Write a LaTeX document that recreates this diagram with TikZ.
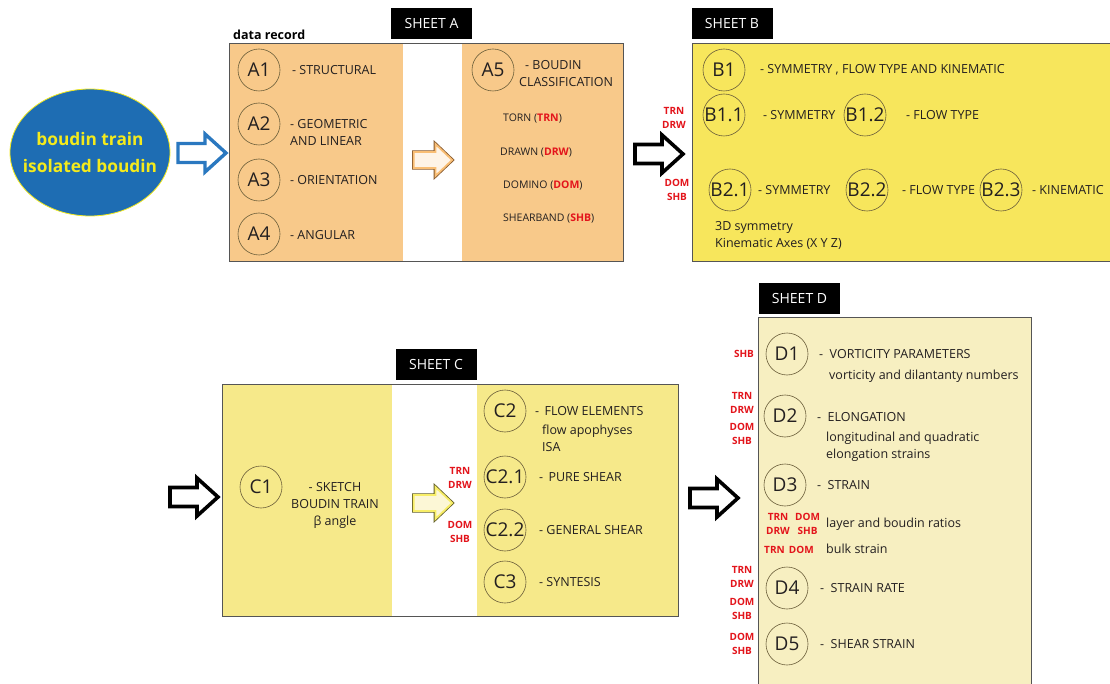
\documentclass[tikz,border=0pt]{standalone}
\usepackage{fontspec}
\setmainfont{Open Sans}
\usetikzlibrary{shapes.geometric}
\definecolor{txt}{HTML}{231F20}
\definecolor{redc}{HTML}{E3141B}
\definecolor{orfill}{HTML}{F8C98A}
\definecolor{ybfill}{HTML}{F7E65C}
\definecolor{ycfill}{HTML}{F6E98A}
\definecolor{ydfill}{HTML}{F7EFC1}
\definecolor{blueel}{HTML}{1E6DB3}
\definecolor{yeltxt}{HTML}{F4EA1C}
\definecolor{bluearr}{HTML}{2A78C0}
\definecolor{circc}{HTML}{6B5E3A}
\definecolor{boxc}{HTML}{555555}
\tikzset{
  sheetbox/.style={draw=boxc, line width=0.9pt},
  cir/.style={circle, draw=circc, line width=0.6pt, minimum size=42pt, inner sep=0pt, text=txt, font=\fontsize{19}{20}\selectfont},
  lbl/.style={anchor=west, text=txt, align=left, inner sep=0pt, font=\fontsize{12.5}{17}\selectfont},
  sub/.style={anchor=west, text=txt, align=left, inner sep=0pt, font=\fontsize{12.5}{17}\selectfont},
  rl/.style={text=redc, align=center, inner sep=0pt, font=\bfseries\fontsize{10}{14}\selectfont},
  sheet/.style={fill=black, text=white, minimum width=81pt, minimum height=31pt, inner sep=0pt, font=\fontsize{14}{16}\selectfont},
  cls/.style={anchor=west, text=txt, inner sep=0pt, font=\fontsize{10.5}{12}\selectfont},
  barrow/.pic={\path[pic actions] (-24,-9.5) -- (3,-9.5) -- (3,-19) -- (24,0) -- (3,19) -- (3,9.5) -- (-24,9.5) -- cycle;}
}
\newcommand{\rd}[1]{\textcolor{redc}{\bfseries #1}}
\begin{document}
\begin{tikzpicture}[x=1pt,y=-1pt, line join=miter]
\useasboundingbox[fill=white] (0,0) rectangle (1110,684);

% ---------- start ellipse ----------
\draw[fill=blueel, draw=yeltxt, line width=0.8pt] (90,152.5) ellipse [x radius=80, y radius=63.5];
\node[text=yeltxt, align=center, inner sep=0pt, font=\bfseries\fontsize{17.3}{27}\selectfont] (start) at (90,152.5) {boudin train\\isolated boudin};
\pic[draw=bluearr, fill=white, line width=3.4pt] (arrblue) at (202,153) {barrow};

% ---------- SHEET A ----------
\fill[orfill] (229,43) rectangle (403,261);
\fill[orfill] (462,43) rectangle (623,261);
\draw[sheetbox] (229,43) rectangle (623,261);
\node[sheet] (sheetA) at (431.5,23.5) {SHEET A};
\node[anchor=west, inner sep=0pt, text=black, font=\bfseries\fontsize{12.5}{14}\selectfont] (datarec) at (233,35) {data record};

\node[cir] (A1) at (259,70) {A1};
\node[lbl] (A1t) at (292,70) {- STRUCTURAL};
\node[cir] (A2) at (259,124) {A2};
\node[lbl] (A2t) at (290,132) {- GEOMETRIC\\AND LINEAR};
\node[cir] (A3) at (259,180) {A3};
\node[lbl] (A3t) at (290,180) {- ORIENTATION};
\node[cir] (A4) at (259,234) {A4};
\node[lbl] (A4t) at (290,235) {- ANGULAR};

\pic[draw=brown!70!black, fill=white, line width=3.4pt, xscale=0.8, yscale=0.84] at (433,160) {barrow};
\pic[draw=orfill!85!orange, fill=white!80!orfill, line width=1.8pt, xscale=0.8, yscale=0.84] (arrorange) at (433,160) {barrow};

\node[cir] (A5) at (493,70) {A5};
\node[lbl] (A5t) at (519,74) {\hspace*{6pt}- BOUDIN\\CLASSIFICATION};
\node[cls] (torn) at (503,119) {TORN (\rd{TRN})};
\node[cls] (drawn) at (500,153) {DRAWN (\rd{DRW})};
\node[cls] (domino) at (503,186) {DOMINO (\rd{DOM})};
\node[cls] (shear) at (503,219) {SHEARBAND (\rd{SHB})};

% arrow A -> B
\pic[draw=black, fill=white, line width=3.6pt] (arrAB) at (659,154) {barrow};
\node[rl] (abtop) at (674,118) {TRN\\DRW};
\node[rl] (abbot) at (677,190) {DOM\\SHB};

% ---------- SHEET B ----------
\fill[ybfill] (692,43) rectangle (1112,261);
\draw[sheetbox] (692,43) rectangle (1112,261);
\node[sheet] (sheetB) at (732,23.5) {SHEET B};
\node[cir] (B1) at (724,70) {B1};
\node[lbl] (B1t) at (760,70) {- SYMMETRY , FLOW TYPE AND KINEMATIC};
\node[cir] (B11) at (724,115) {B1.1};
\node[lbl] (B11t) at (763,115) {- SYMMETRY};
\node[cir] (B12) at (865,115) {B1.2};
\node[lbl] (B12t) at (906,115) {- FLOW TYPE};
\node[cir] (B21) at (730,190) {B2.1};
\node[lbl] (B21t) at (758,190) {- SYMMETRY};
\node[cir] (B22) at (867,190) {B2.2};
\node[lbl] (B22t) at (902,190) {- FLOW TYPE};
\node[cir] (B23) at (1001,190) {B2.3};
\node[lbl] (B23t) at (1032,190) {- KINEMATIC};
\node[sub] (B2note) at (715,235) {3D symmetry\\Kinematic Axes (X Y Z)};

% ---------- SHEET C ----------
\pic[draw=black, fill=white, line width=3.6pt] (arrC) at (194,497) {barrow};
\fill[ycfill] (222,384) rectangle (392,616);
\fill[ycfill] (477,384) rectangle (678,616);
\draw[sheetbox] (222,384) rectangle (678,616);
\node[sheet] (sheetC) at (436,364) {SHEET C};
\node[cir] (C1) at (261,487) {C1};
\node[lbl, align=center, anchor=north] (C1t) at (335,482.5) {- SKETCH\\[-0.5pt]BOUDIN TRAIN\\[0.5pt]β angle};

\pic[draw=olive!60!black, fill=white, line width=3.4pt, xscale=0.8, yscale=0.84] at (433,503) {barrow};
\pic[draw=ycfill!75!yellow, fill=white!65!ycfill, line width=1.8pt, xscale=0.8, yscale=0.84] (arryellow) at (433,503) {barrow};
\node[rl] (ctop) at (460,478) {TRN\\DRW};
\node[rl] (cbot) at (460,532) {DOM\\SHB};

\node[cir] (C2) at (505,411) {C2};
\node[lbl] (C2t) at (535,411) {- \,FLOW ELEMENTS};
\node[sub] (C2s) at (542,438.5) {flow apophyses\\ISA};
\node[cir] (C21) at (505,477) {C2.1};
\node[lbl] (C21t) at (539,477) {- \,PURE SHEAR};
\node[cir] (C22) at (505,530) {C2.2};
\node[lbl] (C22t) at (539,530) {- GENERAL SHEAR};
\node[cir] (C3) at (505,582) {C3};
\node[lbl] (C3t) at (539,582) {- SYNTESIS};

% arrow C -> D
\pic[draw=black, fill=white, line width=3.6pt] (arrCD) at (714,498) {barrow};

% ---------- SHEET D ----------
\fill[ydfill] (758,317) rectangle (1031,690);
\draw[sheetbox] (758,317) rectangle (1031,690);
\node[sheet] (sheetD) at (799.5,298.5) {SHEET D};

\node[cir] (D1) at (787,354) {D1};
\node[lbl] (D1t) at (819,354) {- \ VORTICITY PARAMETERS};
\node[sub] (D1s) at (829,376) {vorticity and dilantanty numbers};
\node[cir] (D2) at (785,416) {D2};
\node[lbl] (D2t) at (817,417) {- \ ELONGATION};
\node[sub] (D2s) at (826,446.5) {longitudinal and quadratic\\elongation strains};
\node[cir] (D3) at (785,485) {D3};
\node[lbl] (D3t) at (817,485) {- \ STRAIN};
\node[rl, anchor=west] (D3r1) at (766,524) {TRN\\DRW};
\node[rl, anchor=west] (D3r2) at (795,524) {DOM\\SHB};
\node[sub] (D3s1) at (826,524) {layer and boudin ratios};
\node[rl, anchor=west] (D3r3) at (764,550) {TRN \,DOM};
\node[sub] (D3s2) at (826,549) {bulk strain};
\node[cir] (D4) at (787,588) {D4};
\node[lbl] (D4t) at (820,588) {- \ STRAIN RATE};
\node[cir] (D5) at (787,644) {D5};
\node[lbl] (D5t) at (820,644) {- \ SHEAR STRAIN};

\node[rl] (rD1) at (744,354) {SHB};
\node[rl] (rD2a) at (742,403) {TRN\\DRW};
\node[rl] (rD2b) at (742,434) {DOM\\SHB};
\node[rl] (rD4a) at (742,577) {TRN\\DRW};
\node[rl] (rD4b) at (742,608.5) {DOM\\SHB};
\node[rl] (rD5) at (742,644) {DOM\\SHB};
\end{tikzpicture}
\end{document}
